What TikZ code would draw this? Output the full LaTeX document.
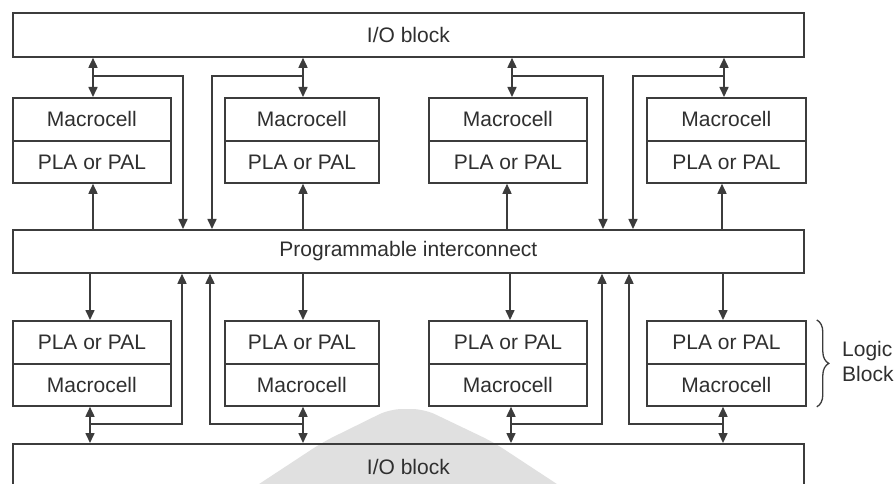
\documentclass[tikz,border=0pt]{standalone}
\usepackage{fontspec}
\setmainfont{Liberation Sans}
\usetikzlibrary{arrows.meta,decorations.pathreplacing}
\definecolor{ln}{HTML}{3C3C3C}
\definecolor{tx}{HTML}{2F2F2F}
\definecolor{wm}{HTML}{E0E0E0}
\begin{document}
\begin{tikzpicture}[x=1pt,y=-1pt]
\tikzset{
  wire/.style={draw=ln, line width=1.6pt},
  tip/.style={-{Triangle[length=10pt,width=9pt]}},
  twotip/.style={{Triangle[length=10pt,width=9pt]}-{Triangle[length=10pt,width=9pt]}},
  txt/.style={text=tx, font=\fontsize{21}{25}\selectfont},
  cell/.style={txt, draw=ln, line width=1.8pt, rectangle, inner sep=0pt, anchor=north west},
  bar/.style={cell, minimum width=791pt},
}
\clip (0,0) rectangle (895,484);
\fill[white] (0,0) rectangle (895,484);

% faint background mark
\fill[wm, rounded corners=12pt] (250,490) -- (323,442) -- (390,409) -- (424,409) -- (493,442) -- (566,490) -- cycle;

% I/O blocks and interconnect
\node[bar, minimum height=44pt] (iotop) at (12,12) {I/O block};
\node[bar, minimum height=43pt] (pic) at (12,229) {Programmable interconnect};
\node[bar, minimum height=46pt] (iobot) at (12,443) {I/O block};

% logic blocks, upper and lower rows
\foreach \n/\x/\w in {1/12/158, 2/224/154, 3/428/158, 4/646/159}{
  \node[cell, minimum width=\w pt, minimum height=43pt] (tm\n) at (\x,97) {Macrocell};
  \node[cell, minimum width=\w pt, minimum height=42pt] (tp\n) at (\x,140) {PLA or PAL};
  \node[cell, minimum width=\w pt, minimum height=43pt] (bp\n) at (\x,320) {PLA or PAL};
  \node[cell, minimum width=\w pt, minimum height=42pt] (bm\n) at (\x,363) {Macrocell};
}

% upper row connections
\foreach \n/\a/\u/\j in {1/93/93/183, 2/303/303/212, 3/512/507/603, 4/724/722/633}{
  \coordinate (ta\n) at (\a,76);
  \coordinate (tj\n) at (\j,76);
  \coordinate (tu\n) at (\u,0);
  \draw[wire,twotip] (iotop.south -| ta\n) -- (tm\n.north -| ta\n);
  \draw[wire,tip] (ta\n) -- (tj\n) -- (pic.north -| tj\n);
  \draw[wire,tip] (pic.north -| tu\n) -- (tp\n.south -| tu\n);
}

% lower row connections
\foreach \n/\a/\d/\j in {1/90/90/182, 2/303/303/210, 3/511/510/602, 4/723/723/629}{
  \coordinate (ba\n) at (\a,424);
  \coordinate (bj\n) at (\j,424);
  \coordinate (bd\n) at (\d,0);
  \draw[wire,tip] (pic.south -| bd\n) -- (bp\n.north -| bd\n);
  \draw[wire,twotip] (bm\n.south -| ba\n) -- (iobot.north -| ba\n);
  \draw[wire,tip] (ba\n) -- (bj\n) -- (pic.south -| bj\n);
}

% logic block brace and label
\coordinate (brA) at ([xshift=10pt]bp4.north east);
\coordinate (brB) at ([xshift=10pt]bm4.south east);
\draw[ln, line width=1.3pt, decorate, decoration={brace, amplitude=12pt}] (brA) -- (brB);
\node[txt, anchor=west, align=left, inner sep=0pt] (lbl) at (842,361) {Logic\\Block};
\end{tikzpicture}
\end{document}
